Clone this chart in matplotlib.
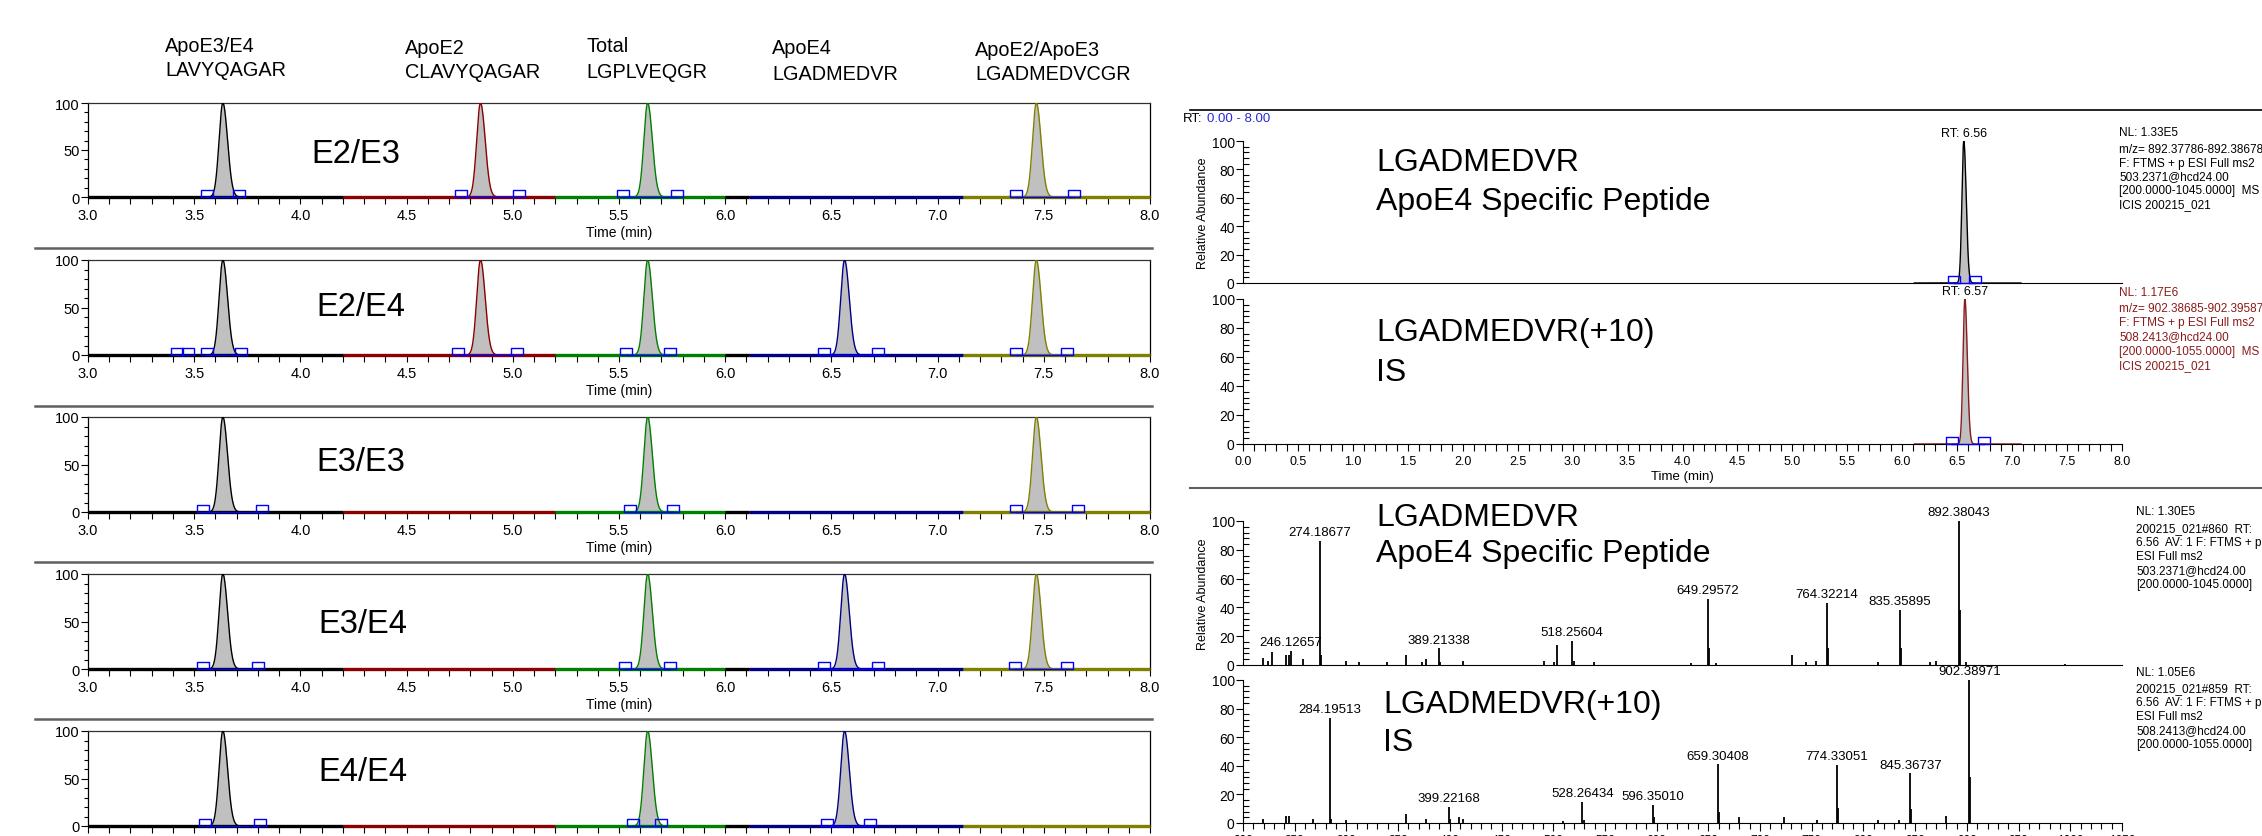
import numpy as np
import matplotlib
matplotlib.use('Agg')
import matplotlib.pyplot as plt
from matplotlib.lines import Line2D
from matplotlib.ticker import MultipleLocator

plt.rcParams['font.family'] = ['Liberation Sans', 'DejaVu Sans']
narrow = ['Liberation Sans Narrow', 'Liberation Sans', 'DejaVu Sans']

# 左侧: 五个基因型样本的色谱图
samples = ['E2/E3', 'E2/E4', 'E3/E3', 'E3/E4', 'E4/E4']
pep_group = ['ApoE3/E4', 'ApoE2', 'Total', 'ApoE4', 'ApoE2/ApoE3']
pep_seq = ['LAVYQAGAR', 'CLAVYQAGAR', 'LGPLVEQGR', 'LGADMEDVR', 'LGADMEDVCGR']
peak_rt = [3.635, 4.848, 5.635, 6.562, 7.465]
# 每个样本出现的峰 (1=有)
present = [[1, 1, 1, 0, 1],
           [1, 1, 1, 1, 1],
           [1, 0, 1, 0, 1],
           [1, 0, 1, 1, 1],
           [1, 0, 1, 1, 0]]
# 积分窗口 (蓝色方块)
windows = [[(3.56, 3.71), (4.757, 5.03), (5.52, 5.775), (7.37, 7.64)],
           [(3.42, 3.47), (3.56, 3.72), (4.74, 5.02), (5.535, 5.74), (6.465, 6.72), (7.37, 7.61)],
           [(3.54, 3.82), (5.55, 5.755), (7.37, 7.66)],
           [(3.54, 3.80), (5.53, 5.74), (6.465, 6.72), (7.365, 7.61)],
           [(3.55, 3.81), (5.565, 5.70), (6.48, 6.68)]]
seg_edges = [3.0, 4.2, 5.2, 6.0, 6.11, 7.12, 8.0]
seg_colors = ['black', '#8B0000', '#008000', 'black', '#000080', '#808000']

# 右上: LGADMEDVR 及内标的 XIC
xic_rt = [6.56, 6.57]
xic_windows = [(6.47, 6.66), (6.45, 6.74)]
xic_colors = ['black', '#8B1A1A']
xic_range = (6.11, 7.08)
xic_info = [['NL: 1.33E5', 'm/z= 892.37786-892.38678', 'F: FTMS + p ESI Full ms2',
             '503.2371@hcd24.00', '[200.0000-1045.0000]  MS', 'ICIS 200215_021'],
            ['NL: 1.17E6', 'm/z= 902.38685-902.39587', 'F: FTMS + p ESI Full ms2',
             '508.2413@hcd24.00', '[200.0000-1055.0000]  MS', 'ICIS 200215_021']]

# 右下: MS2 谱图
mz_c = [219.6, 223.7, 227.8, 241.5, 244.0, 246.13, 258.0, 274.19, 275.4, 299.6, 311.8,
        339.5, 357.2, 372.8, 376.5, 389.21, 390.2, 412.8, 491.0, 500.4, 503.7, 518.26,
        519.8, 539.4, 633.7, 649.30, 650.3, 657.0, 730.7, 744.9, 754.0, 764.32, 765.3,
        814.0, 835.36, 836.4, 864.0, 870.0, 892.38, 893.4, 898.7, 995.0]
int_c = [5, 3, 9, 7, 7, 10, 4, 86, 7, 3, 2, 2, 7, 2, 4, 11.5, 2, 3, 3, 2, 14, 16.5,
         3, 2, 1.5, 45.7, 12, 1.5, 7, 2, 3, 43, 11.5, 2, 38, 12, 2, 3, 100, 38, 2, 1]
lab_c = ['246.12657', '274.18677', '389.21338', '518.25604', '649.29572',
         '764.32214', '835.35895', '892.38043']
lab_c_h = [10, 86, 11.5, 16.5, 45.7, 43, 38, 100]

mz_d = [219.6, 241.5, 244.0, 267.3, 284.20, 285.2, 299.6, 357.2, 376.5, 399.22, 400.2,
        408.9, 412.8, 509.7, 528.26, 529.3, 596.35, 597.4, 659.30, 660.3, 679.6, 723.0,
        755.0, 774.33, 775.3, 814.0, 834.0, 845.37, 846.4, 879.8, 902.39, 903.4]
int_d = [3, 5, 5, 3, 73.7, 3, 2, 6, 3, 11, 3, 4, 3, 1.5, 15, 2, 12.8, 4, 41, 8, 4, 4,
         2, 40.7, 10.5, 2, 2, 34.7, 10, 5, 100, 32]
lab_d = ['284.19513', '399.22168', '528.26434', '596.35010', '659.30408',
         '774.33051', '845.36737', '902.38971']
lab_d_h = [73.7, 11, 15, 12.8, 41, 40.7, 34.7, 100]
ms_info = [['NL: 1.30E5', '200215_021#860  RT:', '6.56  AV: 1 F: FTMS + p', 'ESI Full ms2',
            '503.2371@hcd24.00', '[200.0000-1045.0000]'],
           ['NL: 1.05E6', '200215_021#859  RT:', '6.56  AV: 1 F: FTMS + p', 'ESI Full ms2',
            '508.2413@hcd24.00', '[200.0000-1055.0000]']]

W, H = 2262, 837
fig = plt.figure(figsize=(W / 100, H / 100), dpi=100)


def box(l, t, r, b):
    return [l / W, 1 - b / H, (r - l) / W, (b - t) / H]


def ftext(x, y, s, **kw):
    fig.text(x / W, 1 - y / H, s, **kw)


def hline(x0, x1, y, **kw):
    fig.add_artist(Line2D([x0 / W, x1 / W], [1 - y / H, 1 - y / H], **kw))


def peak(t, c, h, sl, sr):
    s = np.where(t < c, sl, sr)
    return h * np.exp(-0.5 * ((t - c) / s) ** 2)


# 积分标记: 底边在基线上的空心矩形
mk = [(-1, 0), (-1, 1.2), (1, 1.2), (1, 0), (-1, 0)]

t = np.linspace(3.0, 8.0, 5001)
tops = [104, 261, 418, 575, 732]
zeros = [198, 356, 513, 670, 827]
lab_y = [155, 308, 463, 625, 773]
lab_x = [311, 316, 316, 318, 318]

for i in range(5):
    ax = fig.add_axes(box(88, tops[i], 1150, zeros[i]))
    ax.set_xlim(3.0, 8.0)
    ax.set_ylim(0, 100)
    y = np.zeros_like(t)
    for k in range(5):
        if present[i][k]:
            y += peak(t, peak_rt[k], 100, 0.018, 0.022)
    for (a, b) in windows[i]:
        m = (t >= a) & (t <= b)
        ax.fill_between(t[m], 0, y[m], color='#c0c0c0', lw=0, zorder=1)
    for k in range(len(seg_colors)):
        m = (t >= seg_edges[k]) & (t <= seg_edges[k + 1])
        ax.plot(t[m], y[m], color=seg_colors[k], lw=1.0, zorder=3)
        ax.plot([seg_edges[k], seg_edges[k + 1]], [0, 0], color=seg_colors[k],
                lw=2.4, zorder=4, clip_on=False, solid_capstyle='butt')
    for (a, b) in windows[i]:
        ax.plot([a, b], [0, 0], color='blue', lw=1.0, zorder=5, clip_on=False)
        ax.plot([a, b], [0, 0], ls='none', marker=mk, ms=10, mfc='none', mec='blue',
                mew=1.0, zorder=6, clip_on=False)
    ax.xaxis.set_major_locator(MultipleLocator(0.5))
    ax.xaxis.set_minor_locator(MultipleLocator(0.1))
    ax.yaxis.set_major_locator(MultipleLocator(50))
    ax.yaxis.set_minor_locator(MultipleLocator(10))
    ax.tick_params(axis='x', which='both', direction='out', length=5, width=0.8, pad=3)
    ax.tick_params(axis='y', which='major', direction='out', length=5, width=0.8, pad=1)
    ax.tick_params(axis='y', which='minor', direction='out', length=3, width=0.8)
    ax.xaxis.set_major_formatter(matplotlib.ticker.FormatStrFormatter('%.1f'))
    for lb in ax.get_xticklabels() + ax.get_yticklabels():
        lb.set_family(narrow)
        lb.set_fontsize(10.5)
    ax.set_xlabel('Time (min)', family=narrow, fontsize=10, labelpad=2)
    for sp in ax.spines.values():
        sp.set_linewidth(0.9)
    ax.spines['top'].set_color('#303030')
    ftext(lab_x[i], lab_y[i], samples[i], fontsize=23.5, va='center')

# 顶部肽段名称
pep_x = [165, 405, 586, 772, 975]
pep_y1 = [46, 48, 46, 49, 50]
pep_y2 = [71, 72, 72, 75, 75]
for k in range(5):
    ftext(pep_x[k], pep_y1[k], pep_group[k], fontsize=14.3, va='center')
    ftext(pep_x[k], pep_y2[k], pep_seq[k], fontsize=14.3, va='center')

for ys in [249, 407, 563, 720]:
    hline(35, 1152, ys, color='#606060', lw=1.8)

# 右上 XIC
hline(1190, W, 111, color='black', lw=1.2)
ftext(1183, 119, 'RT:', family=narrow, fontsize=9.5, va='center')
ftext(1207, 119, '0.00 - 8.00', family=narrow, fontsize=9.5, va='center', color='#2a2ad0')

tr = np.linspace(xic_range[0], xic_range[1], 1500)
xic_box = [(142, 284), (300, 445)]
xic_lab = [['LGADMEDVR', 'ApoE4 Specific Peptide'], ['LGADMEDVR(+10)', 'IS']]
xic_lab_y = [(163, 202), (333, 373)]
info_y = [[133, 150, 164, 177, 191, 205], [293, 309, 323, 337, 352, 366]]
for j in range(2):
    ax = fig.add_axes(box(1243, xic_box[j][0], 2122, xic_box[j][1]))
    ax.set_xlim(0, 8)
    ax.set_ylim(0, 100)
    y = peak(tr, xic_rt[j], 100, 0.017, 0.022)
    a, b = xic_windows[j]
    m = (tr >= a) & (tr <= b)
    ax.fill_between(tr[m], 0, y[m], color='#c0c0c0', lw=0)
    ax.plot(tr, y, color=xic_colors[j], lw=1.0)
    ax.plot([a, b], [0, 0], color='blue', lw=1.0, clip_on=False, zorder=5)
    ax.plot([a, b], [0, 0], ls='none', marker=mk, ms=10, mfc='none', mec='blue',
            mew=1.0, clip_on=False, zorder=6)
    ax.text(xic_rt[j], 101.5, 'RT: %.2f' % xic_rt[j], ha='center', va='bottom', fontsize=9)
    ax.spines['top'].set_visible(False)
    ax.spines['right'].set_visible(False)
    ax.yaxis.set_major_locator(MultipleLocator(20))
    ax.yaxis.set_minor_locator(MultipleLocator(4))
    ax.tick_params(axis='y', which='major', direction='out', length=5, width=0.8, pad=1)
    ax.tick_params(axis='y', which='minor', direction='in', length=4, width=0.8)
    for lb in ax.get_yticklabels():
        lb.set_family(narrow)
        lb.set_fontsize(10)
    if j == 0:
        ax.set_xticks([])
        ax.set_ylabel('Relative Abundance', fontsize=9, labelpad=2)
    else:
        ax.xaxis.set_major_locator(MultipleLocator(0.5))
        ax.xaxis.set_minor_locator(MultipleLocator(0.1))
        ax.xaxis.set_major_formatter(matplotlib.ticker.FormatStrFormatter('%.1f'))
        ax.tick_params(axis='x', which='both', direction='out', length=5, width=0.8, pad=3)
        for lb in ax.get_xticklabels():
            lb.set_fontsize(9)
        ax.set_xlabel('Time (min)', family=narrow, fontsize=9.5, labelpad=2)
    ftext(1376, xic_lab_y[j][0], xic_lab[j][0], fontsize=23, va='center')
    ftext(1376, xic_lab_y[j][1], xic_lab[j][1], fontsize=23, va='center')
    for n, s in enumerate(xic_info[j]):
        ftext(2119, info_y[j][n], s, fontsize=8.5, va='center', color=xic_colors[j])

hline(1190, W, 489, color='#606060', lw=1.5)

# 右下 MS2
ms_box = [(522, 666), (681, 824)]
ms_data = [(mz_c, int_c, lab_c, lab_c_h), (mz_d, int_d, lab_d, lab_d_h)]
ms_lab = [['LGADMEDVR', 'ApoE4 Specific Peptide'], ['LGADMEDVR(+10)', 'IS']]
ms_lab_pos = [(1376, 518, 554), (1383, 705, 743)]
ms_info_y = [[512, 529, 543, 557, 571, 585], [673, 689, 703, 717, 731, 745]]
for j in range(2):
    mz, inten, labs, labh = ms_data[j]
    ax = fig.add_axes(box(1243, ms_box[j][0], 2122, ms_box[j][1]))
    ax.set_xlim(200, 1050)
    ax.set_ylim(0, 100)
    ax.vlines(mz, 0, inten, color='black', lw=1.3)
    for s, h in zip(labs, labh):
        ax.text(float(s), h + 2, s, ha='center', va='bottom', family=narrow, fontsize=9.5)
    ax.spines['top'].set_visible(False)
    ax.spines['right'].set_visible(False)
    ax.yaxis.set_major_locator(MultipleLocator(20))
    ax.yaxis.set_minor_locator(MultipleLocator(4))
    ax.tick_params(axis='y', which='major', direction='out', length=5, width=0.8, pad=1)
    ax.tick_params(axis='y', which='minor', direction='in', length=4, width=0.8)
    for lb in ax.get_yticklabels():
        lb.set_family(narrow)
        lb.set_fontsize(10)
    if j == 0:
        ax.set_xticks([])
        ax.set_ylabel('Relative Abundance', fontsize=9, labelpad=2)
    else:
        ax.xaxis.set_major_locator(MultipleLocator(50))
        ax.xaxis.set_minor_locator(MultipleLocator(10))
        ax.tick_params(axis='x', which='major', direction='out', length=6, width=0.8, pad=2)
        ax.tick_params(axis='x', which='minor', direction='out', length=4, width=0.8)
        for lb in ax.get_xticklabels():
            lb.set_fontsize(8.5)
    x0, y1, y2 = ms_lab_pos[j]
    ftext(x0, y1, ms_lab[j][0], fontsize=23, va='center')
    ftext(x0, y2, ms_lab[j][1], fontsize=23, va='center')
    for n, s in enumerate(ms_info[j]):
        ftext(2136, ms_info_y[j][n], s, fontsize=8.5, va='center')

fig.savefig('out.png', dpi=100)
